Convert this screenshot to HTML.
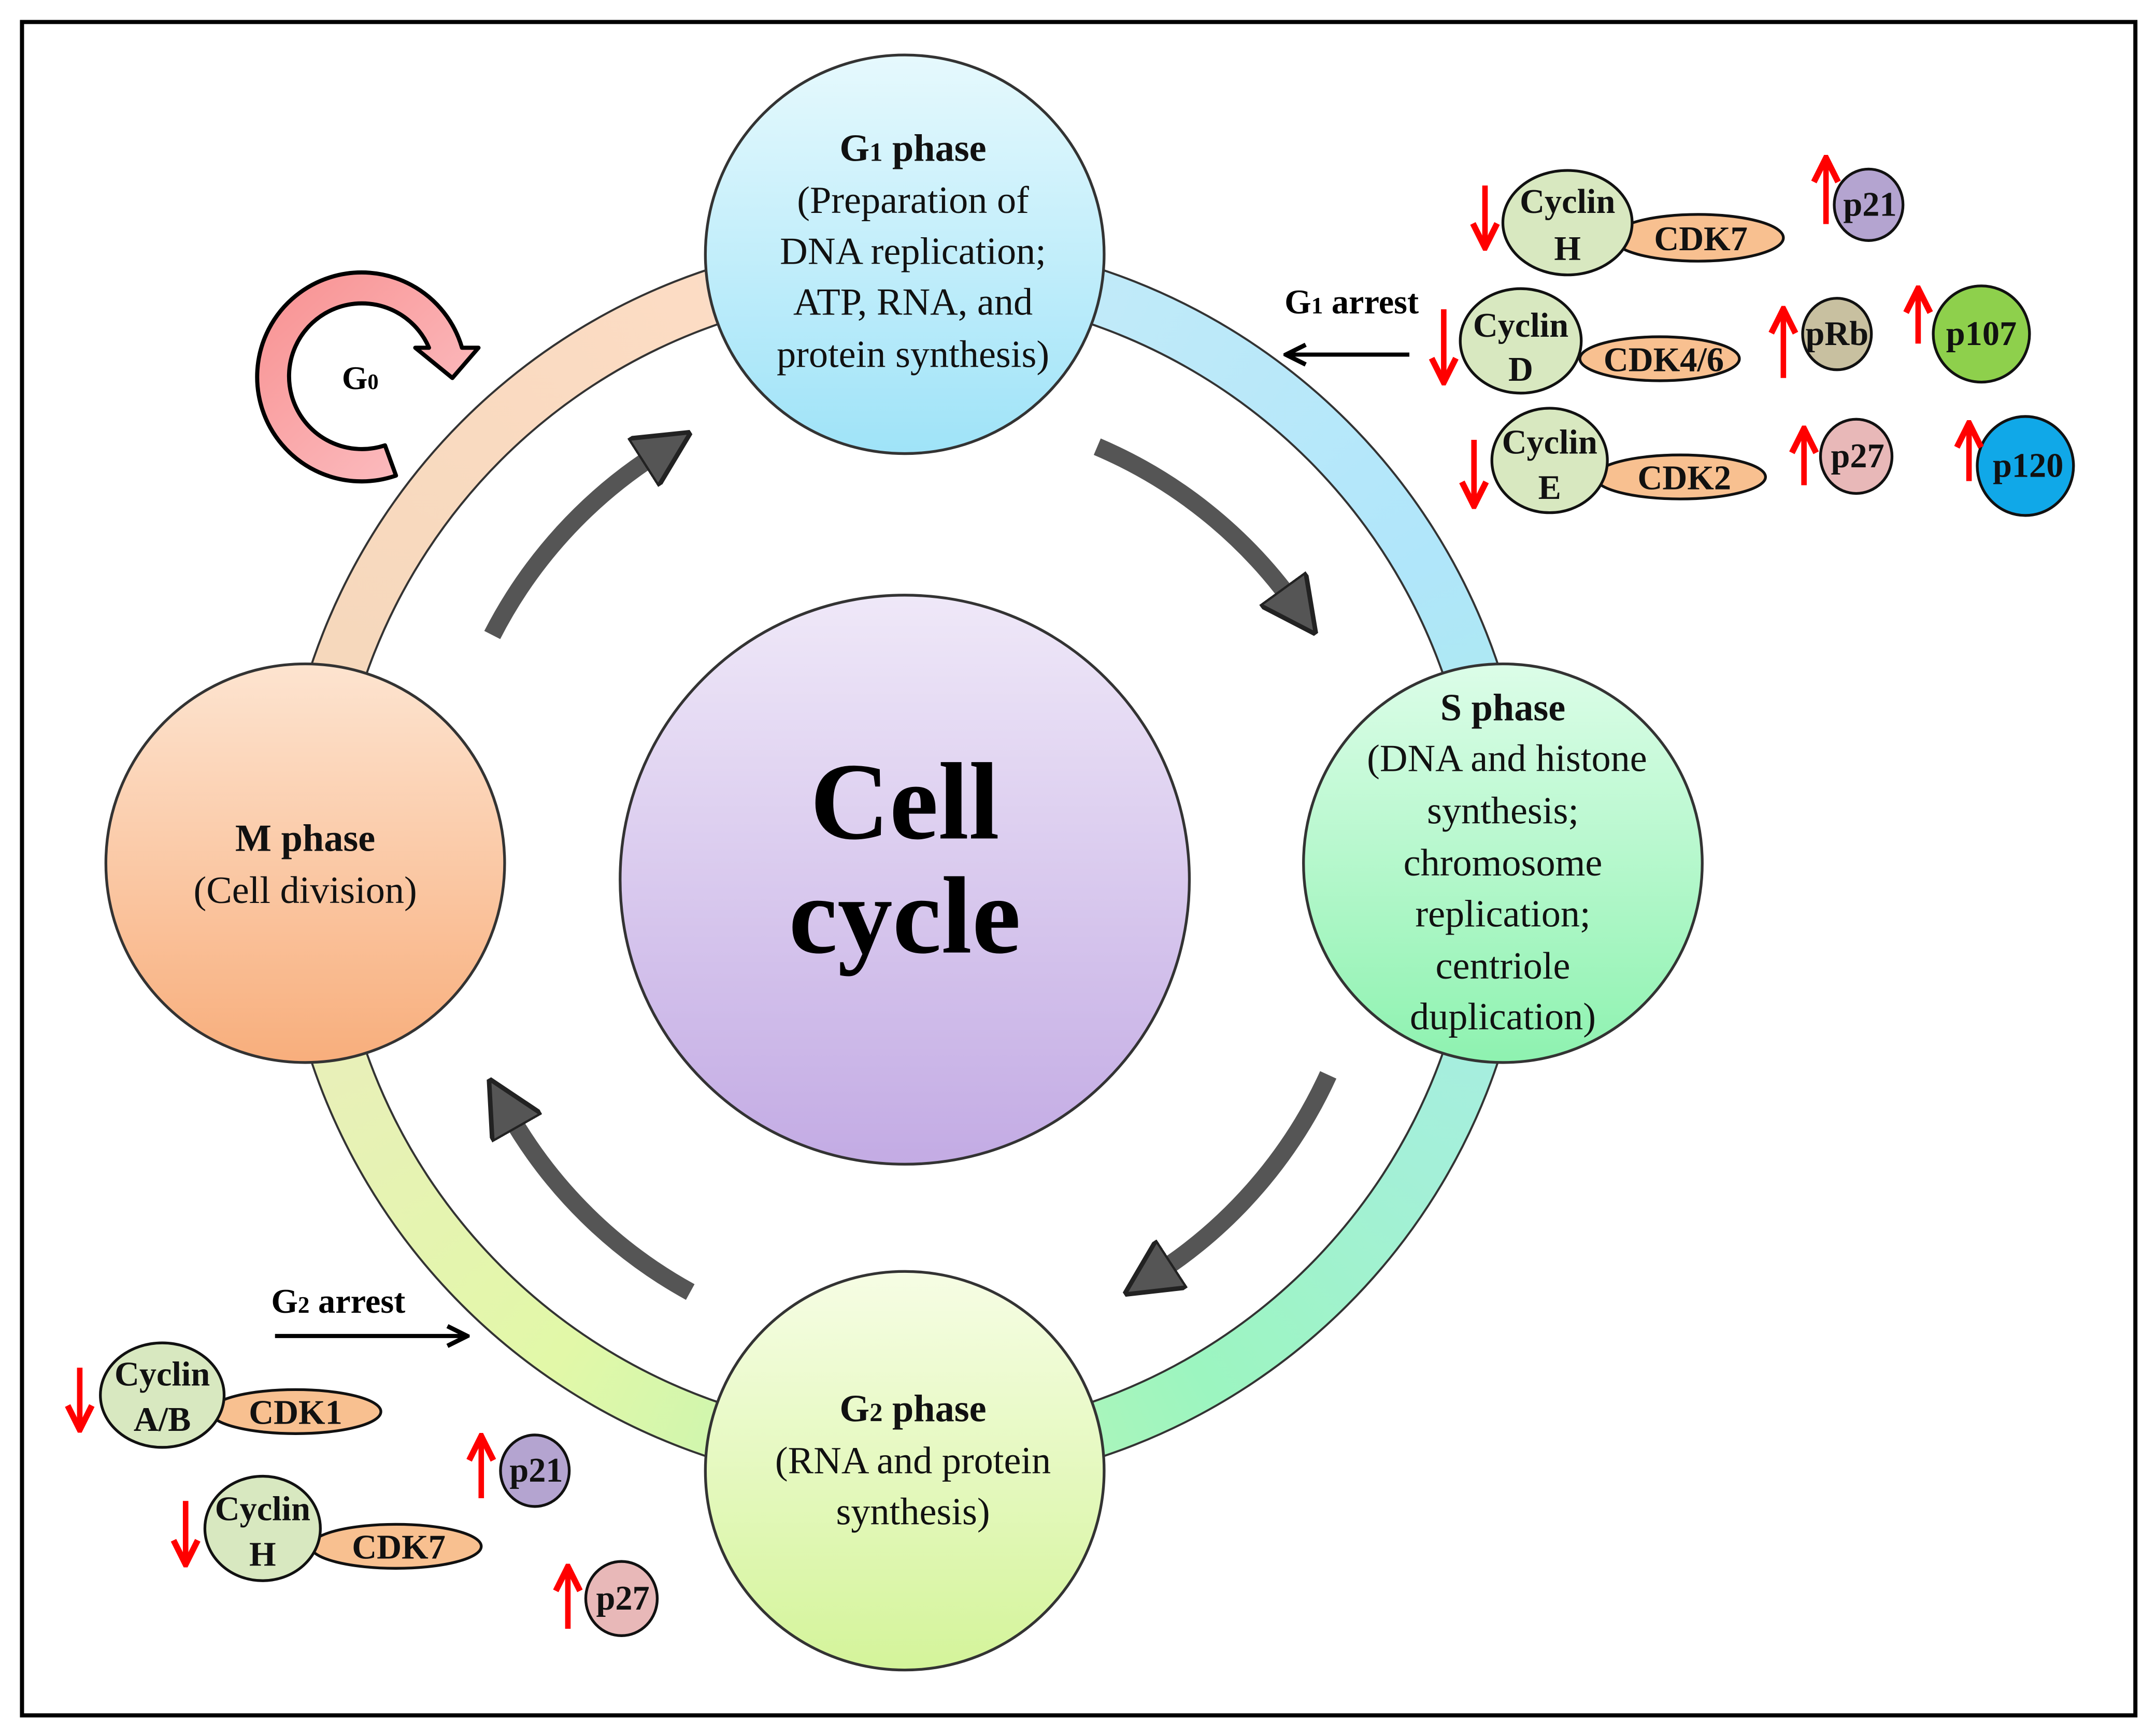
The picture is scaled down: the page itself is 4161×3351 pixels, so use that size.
<!DOCTYPE html>
<html><head><meta charset="utf-8"><style>
html,body{margin:0;padding:0;background:#fff}
#wrap{position:relative;width:4161px;height:3351px;overflow:hidden;background:#fff}
#ring{position:absolute;left:539px;top:460px;width:2414px;height:2414px;border-radius:50%;
background:conic-gradient(from 0deg,#c8ecf8 0deg,#b0e6fa 60deg,#a4f0d8 120deg,#9cf5c0 150deg,#c8f5b0 190deg,#e2f8a8 215deg,#e8f0b8 250deg,#f6d8bc 290deg,#fcdcc4 340deg,#d8e8f0 360deg);
-webkit-mask:radial-gradient(circle,transparent 1101px,#000 1102px,#000 1206px,transparent 1207px);
mask:radial-gradient(circle,transparent 1101px,#000 1102px,#000 1206px,transparent 1207px)}
svg{position:absolute;left:0;top:0}
svg text{font-family:"Liberation Serif",serif}
</style></head><body><div id="wrap">
<div id="ring"></div>
<svg width="4161" height="3351" viewBox="0 0 1568 1263" preserveAspectRatio="none" font-family="Liberation Serif, serif">
<defs>
<linearGradient id="gG1" x1="0" y1="0" x2="0" y2="1"><stop offset="0" stop-color="#e6f9fd"/><stop offset="1" stop-color="#9fe3f8"/></linearGradient>
<linearGradient id="gS" x1="0" y1="0" x2="0" y2="1"><stop offset="0" stop-color="#dcfde8"/><stop offset="1" stop-color="#8ef2b0"/></linearGradient>
<linearGradient id="gG2" x1="0" y1="0" x2="0" y2="1"><stop offset="0" stop-color="#f6fde4"/><stop offset="1" stop-color="#d4f49a"/></linearGradient>
<linearGradient id="gM" x1="0" y1="0" x2="0" y2="1"><stop offset="0" stop-color="#fde4d0"/><stop offset="1" stop-color="#f8ae7c"/></linearGradient>
<linearGradient id="gC" x1="0" y1="0" x2="0" y2="1"><stop offset="0" stop-color="#efe8f8"/><stop offset="1" stop-color="#c3abe4"/></linearGradient>
<linearGradient id="gP" x1="0" y1="0" x2="1" y2="1"><stop offset="0" stop-color="#f89090"/><stop offset="1" stop-color="#fcc4c8"/></linearGradient>
<marker id="ah" viewBox="0 0 10 10" refX="3" refY="5" markerWidth="3.2" markerHeight="3.2" orient="auto" markerUnits="strokeWidth"><path d="M0,0 L10,5 L0,10 Z" fill="#555" stroke="#222" stroke-width="0.8"/></marker>
<marker id="bk" viewBox="0 0 10 10" refX="8" refY="5" markerWidth="6" markerHeight="6" orient="auto" markerUnits="strokeWidth"><path d="M1,1 L9,5 L1,9" fill="none" stroke="#000" stroke-width="1.8"/></marker>
<marker id="rd" viewBox="0 0 10 10" refX="8" refY="5" markerWidth="5.5" markerHeight="5.5" orient="auto" markerUnits="strokeWidth"><path d="M1,1 L9,5 L1,9" fill="none" stroke="#f00" stroke-width="2"/></marker>
</defs>
<rect x="16" y="16" width="1537" height="1232" fill="none" stroke="#000" stroke-width="3"/>
<circle cx="658" cy="628" r="455" fill="none" stroke="#333" stroke-width="1.5"/>
<circle cx="658" cy="628" r="415" fill="none" stroke="#333" stroke-width="1.5"/>
<path d="M288 346 A76 76 0 1 1 336 253 L348 253 L329 275 L302 253 L312 253 A53 53 0 1 0 280 324 Z" fill="url(#gP)" stroke="#000" stroke-width="3" stroke-linejoin="round"/>
<text x="262" y="283" font-size="24" font-weight="bold" text-anchor="middle">G<tspan font-size="16">0</tspan></text>
<circle cx="658" cy="185" r="145" fill="url(#gG1)" stroke="#333" stroke-width="2"/>
<circle cx="1093" cy="628" r="145" fill="url(#gS)" stroke="#333" stroke-width="2"/>
<circle cx="658" cy="1070" r="145" fill="url(#gG2)" stroke="#333" stroke-width="2"/>
<circle cx="222" cy="628" r="145" fill="url(#gM)" stroke="#333" stroke-width="2"/>
<circle cx="658" cy="640" r="207" fill="url(#gC)" stroke="#333" stroke-width="2"/>
<g font-size="28" text-anchor="middle" fill="#111">
<text x="664" y="117" font-weight="bold">G<tspan font-size="19">1</tspan> phase</text>
<text x="664" y="155">(Preparation of</text>
<text x="664" y="192">DNA replication;</text>
<text x="664" y="229">ATP, RNA, and</text>
<text x="664" y="267">protein synthesis)</text>
<text x="1093" y="524" font-weight="bold">S phase</text>
<text x="1096" y="561">(DNA and histone</text>
<text x="1093" y="599">synthesis;</text>
<text x="1093" y="637">chromosome</text>
<text x="1093" y="674">replication;</text>
<text x="1093" y="712">centriole</text>
<text x="1093" y="749">duplication)</text>
<text x="222" y="619" font-weight="bold">M phase</text>
<text x="222" y="657">(Cell division)</text>
<text x="664" y="1034" font-weight="bold">G<tspan font-size="19">2</tspan> phase</text>
<text x="664" y="1072">(RNA and protein</text>
<text x="664" y="1109">synthesis)</text>
</g>
<text x="658" y="610" font-size="80" font-weight="bold" text-anchor="middle">Cell</text>
<text x="658" y="693" font-size="80" font-weight="bold" text-anchor="middle">cycle</text>
<g fill="none" stroke="#555" stroke-width="13" marker-end="url(#ah)">
<path d="M358 462 A340 340 0 0 1 478 330"/>
<path d="M798 325 A340 340 0 0 1 940 438"/>
<path d="M966 782 A340 340 0 0 1 842 926"/>
<path d="M502 940 A340 340 0 0 1 370 810"/>
</g>
<text x="983" y="228" font-size="25" font-weight="bold" text-anchor="middle">G<tspan font-size="17">1</tspan> arrest</text>
<line x1="1025" y1="258" x2="937" y2="258" stroke="#000" stroke-width="3" marker-end="url(#bk)"/>
<text x="246" y="955" font-size="25" font-weight="bold" text-anchor="middle">G<tspan font-size="17">2</tspan> arrest</text>
<line x1="200" y1="972" x2="338" y2="972" stroke="#000" stroke-width="3" marker-end="url(#bk)"/>
<g stroke="#111" stroke-width="2">
<ellipse cx="1235" cy="173" rx="62" ry="17" fill="#f8c090"/>
<ellipse cx="1140" cy="162" rx="47" ry="38" fill="#d8e8c0"/>
<ellipse cx="1207" cy="261" rx="58" ry="16" fill="#f8c090"/>
<ellipse cx="1106" cy="248" rx="44" ry="38" fill="#d8e8c0"/>
<ellipse cx="1222" cy="347" rx="62" ry="16" fill="#f8c090"/>
<ellipse cx="1127" cy="335" rx="42" ry="38" fill="#d8e8c0"/>
<ellipse cx="1359" cy="149" rx="25" ry="26" fill="#b4a4d0"/>
<ellipse cx="1336" cy="243" rx="25" ry="26" fill="#c8c0a0"/>
<ellipse cx="1441" cy="243" rx="35" ry="35" fill="#8ed04c"/>
<ellipse cx="1350" cy="332" rx="26" ry="27" fill="#e8b8b8"/>
<ellipse cx="1473" cy="339" rx="35" ry="36" fill="#10a8e8"/>
<ellipse cx="215" cy="1027" rx="62" ry="16" fill="#f8c090"/>
<ellipse cx="118" cy="1015" rx="45" ry="38" fill="#d8e8c0"/>
<ellipse cx="288" cy="1125" rx="62" ry="16" fill="#f8c090"/>
<ellipse cx="191" cy="1112" rx="42" ry="38" fill="#d8e8c0"/>
<ellipse cx="389" cy="1070" rx="25" ry="26" fill="#b4a4d0"/>
<ellipse cx="452" cy="1163" rx="26" ry="27" fill="#e8b8b8"/>
</g>
<g font-size="25" font-weight="bold" text-anchor="middle" fill="#111">
<text x="1140" y="155">Cyclin</text><text x="1140" y="189">H</text><text x="1237" y="182">CDK7</text>
<text x="1106" y="245">Cyclin</text><text x="1106" y="277">D</text><text x="1210" y="270">CDK4/6</text>
<text x="1127" y="330">Cyclin</text><text x="1127" y="363">E</text><text x="1225" y="356">CDK2</text>
<text x="1360" y="157">p21</text><text x="1336" y="251">pRb</text><text x="1441" y="251">p107</text>
<text x="1351" y="340">p27</text><text x="1475" y="347">p120</text>
<text x="118" y="1008">Cyclin</text><text x="118" y="1041">A/B</text><text x="215" y="1036">CDK1</text>
<text x="191" y="1106">Cyclin</text><text x="191" y="1139">H</text><text x="290" y="1134">CDK7</text>
<text x="390" y="1078">p21</text><text x="453" y="1171">p27</text>
</g>
<g stroke="#f00" stroke-width="4" marker-end="url(#rd)">
<line x1="1080" y1="135" x2="1080" y2="178"/>
<line x1="1050" y1="225" x2="1050" y2="276"/>
<line x1="1072" y1="320" x2="1072" y2="366"/>
<line x1="1328" y1="163" x2="1328" y2="117"/>
<line x1="1297" y1="275" x2="1297" y2="227"/>
<line x1="1395" y1="250" x2="1395" y2="212"/>
<line x1="1312" y1="353" x2="1312" y2="314"/>
<line x1="1432" y1="350" x2="1432" y2="310"/>
<line x1="58" y1="995" x2="58" y2="1038"/>
<line x1="135" y1="1092" x2="135" y2="1136"/>
<line x1="350" y1="1090" x2="350" y2="1047"/>
<line x1="413" y1="1185" x2="413" y2="1142"/>
</g>
</svg>
</div></body></html>
